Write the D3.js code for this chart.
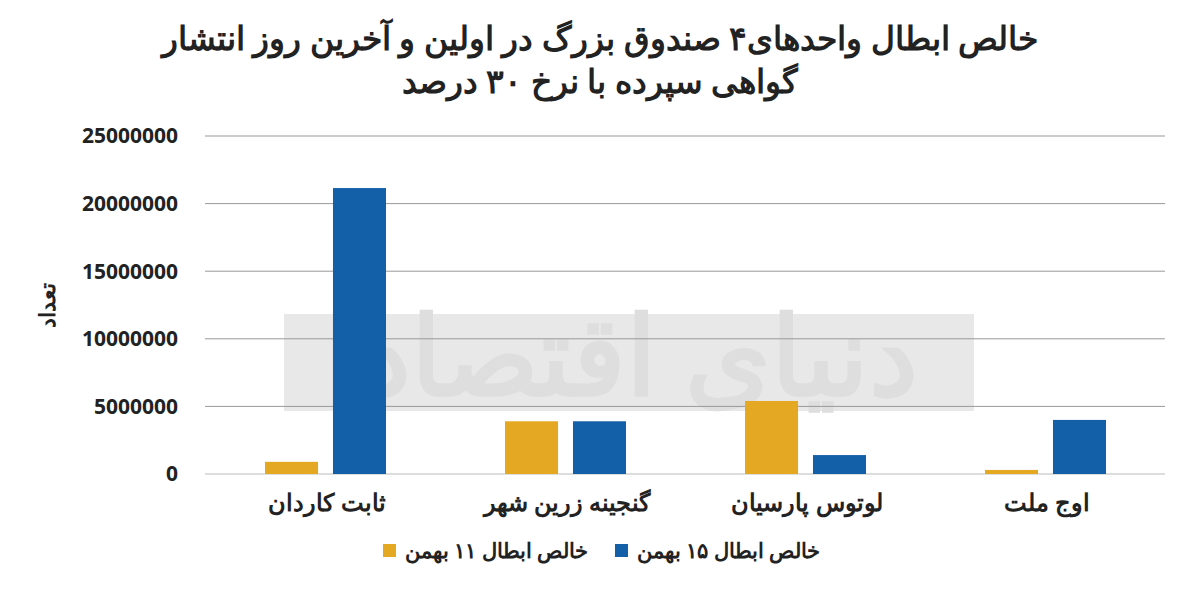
<!DOCTYPE html>
<html><head><meta charset="utf-8">
<script src="https://cdn.jsdelivr.net/npm/d3@7"></script>
<style>body{margin:0;background:#fff}</style>
</head><body><svg></svg>
<script>
const categories = ['ثابت کاردان', 'گنجینه زرین شهر', 'لوتوس پارسیان', 'اوج ملت'];
const series = ['خالص ابطال ۱۱ بهمن', 'خالص ابطال ۱۵ بهمن'];
const values11 = [900000, 3900000, 5400000, 300000];
const values15 = [21150000, 3900000, 1400000, 4000000];
const ticks = [0, 5000000, 10000000, 15000000, 20000000, 25000000];
const colors = ['#E5A823', '#1460A8'];

let width = 1200, height = 597;
let svg = d3.select('svg').attr('width', width).attr('height', height)
    .attr('font-family', '"Noto Sans", sans-serif');

let x = d3.scaleBand().domain(categories).range([205, 1165]);
let x1 = d3.scaleBand().domain([0, 1]).range([60, 181]).paddingInner(0.22);
let y = d3.scaleLinear().domain([0, 25000000]).range([474, 136]);

// watermark
svg.append('rect').attr('x', 284).attr('y', 314).attr('width', 690).attr('height', 97)
    .attr('fill', '#e8e8e8');
svg.append('text').attr('x', 640).attr('y', 395).attr('text-anchor', 'middle')
    .attr('font-size', 110).attr('font-weight', 'bold').attr('fill', '#dedede')
    .attr('direction', 'rtl').text('دنیای اقتصاد');

svg.append('g').selectAll('line').data(ticks).enter().append('line')
    .attr('x1', 205).attr('x2', 1165)
    .attr('y1', d => y(d)).attr('y2', d => y(d))
    .attr('stroke', d => d === 0 ? '#bbb' : '#999').attr('stroke-width', 1);

svg.append('g').selectAll('text').data(ticks).enter().append('text')
    .attr('x', 178).attr('y', d => y(d)).attr('dy', '0.35em')
    .attr('text-anchor', 'end').attr('font-size', 21).attr('font-weight', 'bold')
    .attr('fill', '#222').text(d => d);

let groups = svg.selectAll('.grp').data(categories).enter().append('g')
    .attr('transform', d => `translate(${x(d)},0)`);
groups.selectAll('rect').data((d, i) => [values11[i], values15[i]]).enter().append('rect')
    .attr('x', (d, j) => x1(j)).attr('width', x1.bandwidth())
    .attr('y', d => y(d)).attr('height', d => y(0) - y(d))
    .attr('fill', (d, j) => colors[j]);
groups.append('text').attr('x', x.bandwidth() / 2 + 2).attr('y', 511)
    .attr('text-anchor', 'middle').attr('font-size', 24).attr('font-weight', 'bold')
    .attr('fill', '#222').text(d => d);

svg.append('text').attr('transform', 'translate(55,305) rotate(-90)')
    .attr('text-anchor', 'middle').attr('font-size', 22).attr('font-weight', 'bold')
    .attr('fill', '#222').text('تعداد');

svg.append('text').attr('x', 600).attr('y', 50).attr('text-anchor', 'middle')
    .attr('font-size', 33).attr('font-weight', 'bold').attr('fill', '#222').attr('direction', 'rtl')
    .text('خالص ابطال واحدهای۴ صندوق بزرگ در اولین و آخرین روز انتشار');
svg.append('text').attr('x', 600).attr('y', 93).attr('text-anchor', 'middle')
    .attr('font-size', 33).attr('font-weight', 'bold').attr('fill', '#222').attr('direction', 'rtl')
    .text('گواهی سپرده با نرخ ۳۰ درصد');

let legX = [383, 615];
let leg = svg.selectAll('.leg').data(series).enter().append('g');
leg.append('rect').attr('x', (d, i) => legX[i]).attr('y', 544).attr('width', 13).attr('height', 13)
    .attr('fill', (d, i) => colors[i]);
leg.append('text').attr('x', (d, i) => legX[i] + 22).attr('y', 551).attr('dy', '0.35em')
    .attr('text-anchor', 'start').attr('font-size', 21).attr('font-weight', 'bold')
    .attr('fill', '#222').attr('direction', 'ltr').attr('unicode-bidi', 'plaintext').text(d => d);
</script></body></html>
